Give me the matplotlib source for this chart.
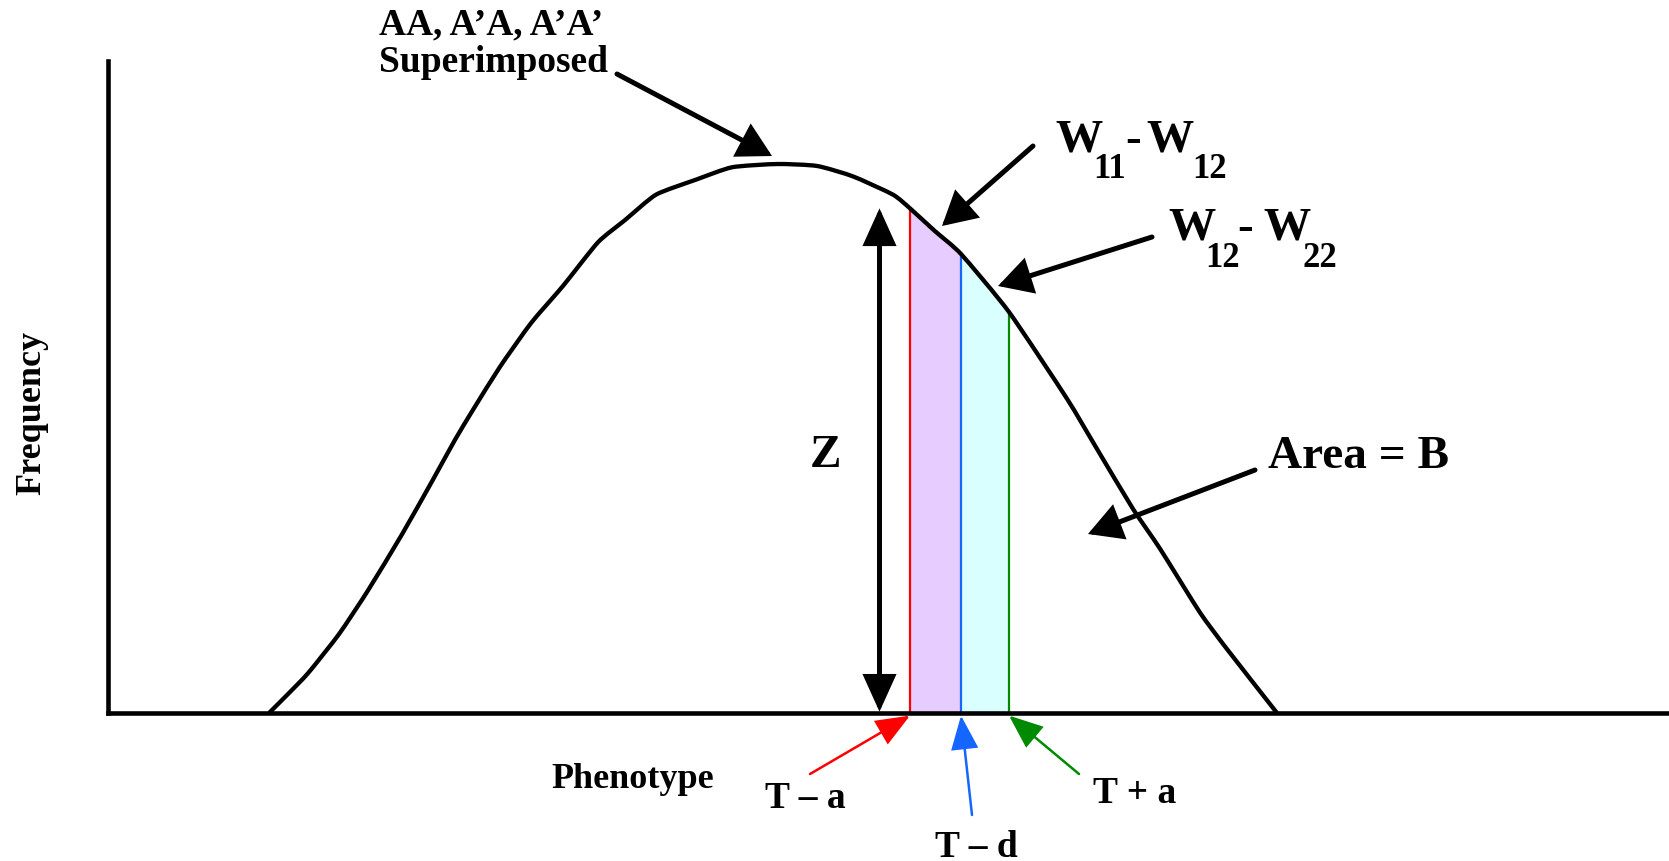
import numpy as np
import matplotlib
matplotlib.use('Agg')
import matplotlib.pyplot as plt
from matplotlib.path import Path
from matplotlib.patches import PathPatch

W, H = 1669, 862  # output size in pixels

# superimposed genotype distribution (phenotype units, relative frequency)
phenotype = np.array([16.1, 17.8, 20.0, 23.1, 26.0, 29.4, 32.5, 34.7, 36.5, 39.2,
                      42.3, 45.5, 49.0, 51.7, 54.8, 58.8, 62.4, 66.9, 70.9, 74.5,
                      78.5, 80.2, 82.7, 85.3, 90.1, 95.9, 98.9, 102.5, 105.2, 109.2,
                      111.9, 116.9])
frequency = np.array([0.0, 2.6, 6.1, 12.1, 18.8, 27.4, 35.8, 41.9, 46.5, 53.1,
                      59.8, 65.5, 72.2, 75.6, 79.5, 81.8, 83.7, 84.2, 83.9, 82.3,
                      79.5, 77.4, 73.9, 70.4, 61.5, 48.2, 40.5, 31.3, 25.2, 15.4,
                      9.8, 0.0])

threshold_labels = ['T – a', 'T – d', 'T + a']
threshold_values = [80.2, 85.3, 90.1]

line_colors = ['#ff0000', '#1466ff', '#008a00']
band_colors = ['#e6ccff', '#d9ffff']

SERIF = 'Liberation Serif'


def fpos(x, y):
    """pixel position (origin top-left) -> figure fraction"""
    return (x / W, 1 - y / H)


def smooth_path(xs, ys, k=10.0):
    # loose catmull-rom through the points (bezier handles shortened to 1/k)
    pts = np.column_stack([xs, ys])
    ext = np.vstack([pts[0], pts, pts[-1]])
    verts = [pts[0]]
    codes = [Path.MOVETO]
    for i in range(1, len(ext) - 2):
        p0, p1, p2, p3 = ext[i - 1], ext[i], ext[i + 1], ext[i + 2]
        verts += [p1 + (p2 - p0) / k, p2 - (p3 - p1) / k, p2]
        codes += [Path.CURVE4] * 3
    return Path(verts, codes)


fig = plt.figure(figsize=(W / 100, H / 100), dpi=100)
ax = fig.add_axes([108 / W, 1 - 714 / H, (W - 108) / W, (714 - 62) / H])
ax.set_xlim(0, 156.1)
ax.set_ylim(0, 100)
ax.set_xticks([])
ax.set_yticks([])
for side in ['top', 'right']:
    ax.spines[side].set_visible(False)
for side in ['left', 'bottom']:
    ax.spines[side].set_linewidth(3.3)
    ax.spines[side].set_zorder(5)

# shaded bands between the thresholds
for i, col in enumerate(band_colors):
    xs = np.linspace(threshold_values[i], threshold_values[i + 1], 40)
    ax.fill_between(xs, 0, np.interp(xs, phenotype, frequency), color=col, lw=0, zorder=1)

# threshold lines
for x, col in zip(threshold_values, line_colors):
    top = np.interp(x, phenotype, frequency)
    ax.plot([x, x], [0, top], color=col, lw=1.6, zorder=2, solid_capstyle='butt')

ax.add_patch(PathPatch(smooth_path(phenotype, frequency), fill=False, ec='black',
                       lw=3.1, zorder=4, clip_on=False, joinstyle='round',
                       capstyle='butt'))


def arrow(tip, tail, tip_coords='figure fraction', color='black', lw=3.6,
          hl=20, hw=10, style='-|>'):
    ax.annotate('', xy=tip, xycoords=tip_coords, xytext=tail,
                textcoords='figure fraction', annotation_clip=False,
                arrowprops=dict(arrowstyle=f'{style},head_length={hl},head_width={hw}',
                                mutation_scale=1, lw=lw, color=color,
                                shrinkA=0, shrinkB=0, joinstyle='miter'))


def label(x, y, s, size, **kw):
    fig.text(*fpos(x, y), s, fontsize=size, fontweight='bold', family=SERIF,
             ha=kw.pop('ha', 'left'), va=kw.pop('va', 'baseline'), **kw)


# Z: height of the curve at the first threshold
z_height = np.interp(threshold_values[0], phenotype, frequency)
z_x = 77.15
ax.annotate('', xy=(z_x, z_height), xytext=(z_x, 0.2), annotation_clip=False,
            arrowprops=dict(arrowstyle='<|-|>,head_length=21,head_width=9.5',
                            mutation_scale=1, lw=3.6, color='black',
                            shrinkA=0, shrinkB=0, joinstyle='miter'))
label(810, 467, 'Z', 34)

# top label
label(491, 34, 'AA, A’A, A’A’', 27, ha='center')
label(493, 72, 'Superimposed', 27, ha='center')
arrow(fpos(772, 157), fpos(617, 75), hl=19, hw=10.5)

# W11 - W12
label(1055, 152, 'W', 34)
label(1093, 178, '11', 25)
label(1125, 152, '-', 34)
label(1146, 152, 'W', 34)
label(1192, 178, '12', 25)
arrow(fpos(942, 227), fpos(1033, 147), hl=19, hw=10.5)

# W12 - W22
label(1168, 240, 'W', 34)
label(1205, 267, '12', 25)
label(1237, 240, '-', 34)
label(1263, 240, 'W', 34)
label(1302, 267, '22', 25)
arrow(fpos(998, 287), fpos(1152, 238), hl=19, hw=10.5)

# Area = B
label(1268, 468, 'Area = B', 34)
arrow(fpos(1088, 535), fpos(1255, 471), hl=19, hw=10.5)

# axis titles
label(551, 788, 'Phenotype', 26)
fig.text(*fpos(32, 413), 'Frequency', fontsize=26, fontweight='bold', family=SERIF,
         rotation=90, ha='center', va='center')

# threshold labels with coloured arrows
label_pos = [(765, 808), (935, 857), (1093, 803)]
tail_pos = [(810, 775), (972, 816), (1079, 775)]
for name, x, col, lp, tp in zip(threshold_labels, threshold_values, line_colors,
                                 label_pos, tail_pos):
    label(lp[0], lp[1], name, 27)
    arrow((x, -0.4), fpos(*tp), tip_coords='data', color=col, lw=1.8, hl=21, hw=8.5)

fig.savefig('out.png', dpi=100)
